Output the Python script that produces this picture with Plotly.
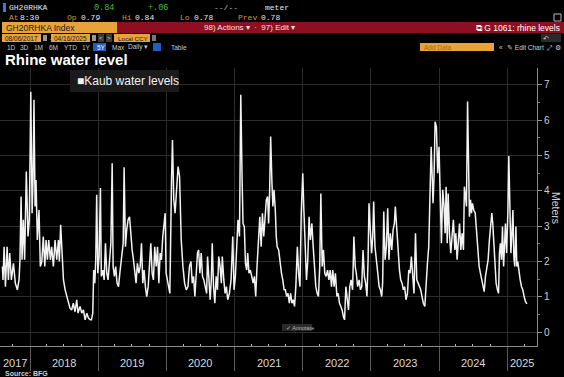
import plotly.graph_objects as go
import datetime as dt

# ---------------- data (Kaub water level, meters) ----------------
dates = [
 "2017-08-06","2017-08-09","2017-08-15","2017-08-22","2017-08-31","2017-09-07","2017-09-14","2017-09-23",
 "2017-10-04","2017-10-14","2017-10-25","2017-11-03","2017-11-08","2017-11-14","2017-11-19","2017-11-26",
 "2017-12-03","2017-12-12","2017-12-21","2017-12-28","2018-01-05","2018-01-12","2018-01-17","2018-01-22",
 "2018-01-28","2018-02-02","2018-02-09","2018-02-18","2018-02-25","2018-03-05","2018-03-13","2018-03-21",
 "2018-03-28","2018-04-04","2018-04-11","2018-04-20","2018-04-27","2018-05-06","2018-05-15","2018-05-24",
 "2018-06-02","2018-06-07","2018-06-14","2018-06-22","2018-06-29","2018-07-08","2018-07-17","2018-07-26",
 "2018-08-03","2018-08-12","2018-08-21","2018-08-30","2018-09-08","2018-09-15","2018-09-26","2018-10-05",
 "2018-10-14","2018-10-23","2018-11-01","2018-11-10","2018-11-19","2018-11-26","2018-12-03","2018-12-08",
 "2018-12-14","2018-12-19","2018-12-24","2018-12-30","2019-01-06","2019-01-13","2019-01-18","2019-01-26",
 "2019-02-02","2019-02-09","2019-02-16","2019-02-23","2019-03-02","2019-03-10","2019-03-17","2019-03-22",
 "2019-03-29","2019-04-05","2019-04-12","2019-04-20","2019-04-27","2019-05-07","2019-05-15","2019-05-20",
 "2019-05-27","2019-06-03","2019-06-10","2019-06-18","2019-06-25","2019-07-02","2019-07-09","2019-07-16",
 "2019-07-23","2019-07-30","2019-08-07","2019-08-14","2019-08-21","2019-08-28","2019-09-04","2019-09-11",
 "2019-09-18","2019-09-26","2019-10-03","2019-10-10","2019-10-17","2019-10-24","2019-10-31","2019-11-08",
 "2019-11-15","2019-11-22","2019-11-29","2019-12-06","2019-12-13","2019-12-20","2019-12-26","2019-12-31",
 "2020-01-11","2020-01-20","2020-01-29","2020-02-03","2020-02-10","2020-02-17","2020-02-25","2020-03-04",
 "2020-03-12","2020-03-21","2020-03-30","2020-04-08","2020-04-17","2020-04-26","2020-05-04","2020-05-12",
 "2020-05-19","2020-05-26","2020-06-02","2020-06-09","2020-06-16","2020-06-22","2020-06-29","2020-07-06",
 "2020-07-13","2020-07-20","2020-07-27","2020-08-04","2020-08-09","2020-08-16","2020-08-23","2020-08-29",
 "2020-09-03","2020-09-10","2020-09-17","2020-09-24","2020-10-01","2020-10-08","2020-10-15","2020-10-22",
 "2020-10-27","2020-11-04","2020-11-11","2020-11-18","2020-11-25","2020-12-04","2020-12-13","2020-12-22",
 "2020-12-29","2021-01-05","2021-01-12","2021-01-19","2021-01-27","2021-02-03","2021-02-10","2021-02-15",
 "2021-02-22","2021-02-28","2021-03-07","2021-03-12","2021-03-19","2021-03-26","2021-04-03","2021-04-10",
 "2021-04-17","2021-04-24","2021-05-01","2021-05-08","2021-05-16","2021-05-23","2021-05-30","2021-06-06",
 "2021-06-13","2021-06-20","2021-06-27","2021-07-02","2021-07-07","2021-07-13","2021-07-20","2021-07-25",
 "2021-07-31","2021-08-07","2021-08-12","2021-08-17","2021-08-25","2021-09-02","2021-09-09","2021-09-16",
 "2021-09-23","2021-09-30","2021-10-07","2021-10-14","2021-10-21","2021-10-28","2021-11-04","2021-11-11",
 "2021-11-18","2021-11-25","2021-12-03","2021-12-10","2021-12-17","2021-12-24","2022-01-01","2022-01-07",
 "2022-01-14","2022-01-21","2022-01-28","2022-02-04","2022-02-11","2022-02-19","2022-02-26","2022-03-05",
 "2022-03-12","2022-03-19","2022-03-26","2022-04-02","2022-04-08","2022-04-15","2022-04-22","2022-04-29",
 "2022-05-06","2022-05-14","2022-05-21","2022-05-28","2022-06-04","2022-06-11","2022-06-18","2022-06-25",
 "2022-07-03","2022-07-10","2022-07-17","2022-07-24","2022-07-31","2022-08-07","2022-08-13","2022-08-20",
 "2022-08-27","2022-09-03","2022-09-10","2022-09-17","2022-09-25","2022-10-02","2022-10-09","2022-10-15",
 "2022-10-22","2022-10-30","2022-11-06","2022-11-13","2022-11-20","2022-11-27","2022-12-04","2022-12-11",
 "2022-12-17","2022-12-22","2022-12-29","2023-01-05","2023-01-11","2023-01-16","2023-01-23","2023-01-30",
 "2023-02-07","2023-02-14","2023-02-21","2023-02-28","2023-03-05","2023-03-11","2023-03-18","2023-03-25",
 "2023-04-01","2023-04-08","2023-04-15","2023-04-23","2023-04-30","2023-05-07","2023-05-12","2023-05-19",
 "2023-05-27","2023-06-03","2023-06-10","2023-06-17","2023-06-24","2023-07-01","2023-07-08","2023-07-16",
 "2023-07-23","2023-07-30","2023-08-06","2023-08-13","2023-08-20","2023-08-28","2023-09-04","2023-09-11",
 "2023-09-18","2023-09-25","2023-10-02","2023-10-09","2023-10-17","2023-10-24","2023-10-31","2023-11-07",
 "2023-11-14","2023-11-20","2023-11-25","2023-11-30","2023-12-06","2023-12-11","2023-12-18","2023-12-25",
 "2024-01-01","2024-01-09","2024-01-14","2024-01-21","2024-01-28","2024-02-03","2024-02-08","2024-02-14",
 "2024-02-19","2024-02-26","2024-03-04","2024-03-11","2024-03-18","2024-03-26","2024-03-31","2024-04-07",
 "2024-04-14","2024-04-20","2024-04-27","2024-05-04","2024-05-11","2024-05-16","2024-05-22","2024-05-27",
 "2024-06-02","2024-06-07","2024-06-12","2024-06-18","2024-06-23","2024-06-28","2024-07-05","2024-07-13",
 "2024-07-20","2024-07-27","2024-08-03","2024-08-10","2024-08-17","2024-08-24","2024-08-30","2024-09-06",
 "2024-09-13","2024-09-20","2024-09-27","2024-10-05","2024-10-10","2024-10-15","2024-10-21","2024-10-26",
 "2024-11-02","2024-11-09","2024-11-15","2024-11-20","2024-11-25","2024-12-01","2024-12-06","2024-12-12",
 "2024-12-17","2024-12-22","2024-12-28","2025-01-04","2025-01-09","2025-01-14","2025-01-20","2025-01-25",
 "2025-01-31","2025-02-05","2025-02-10","2025-02-16","2025-02-21","2025-02-26","2025-03-04","2025-03-11",
 "2025-03-18","2025-03-25","2025-04-01","2025-04-08","2025-04-16",
]
levels = [
 1.86,1.48,2.42,1.29,2.42,1.48,2.24,1.48,
 1.95,1.39,1.20,1.48,2.05,3.84,2.05,3.18,
 2.05,4.55,2.71,3.18,6.81,3.37,4.31,6.58,
 3.56,4.31,2.61,3.46,1.86,2.00,2.71,1.86,
 2.61,2.05,2.61,2.05,2.42,1.86,2.61,2.05,
 2.61,2.00,3.04,2.05,1.48,1.20,1.01,0.87,
 0.68,0.63,0.82,0.58,0.92,0.54,0.73,0.54,
 0.63,0.35,0.54,0.40,0.35,0.35,0.54,1.76,
 1.39,2.05,3.89,1.67,2.14,4.08,1.58,1.76,
 1.48,2.52,1.67,1.48,1.95,2.52,4.78,1.86,
 1.58,1.86,1.39,1.29,1.67,2.24,2.52,4.67,
 2.42,2.90,3.18,3.27,2.71,2.33,2.05,1.67,
 1.39,1.95,1.67,1.86,2.52,1.39,1.76,1.29,
 1.01,1.29,1.86,2.52,1.67,1.48,2.42,1.86,
 2.42,1.39,2.24,2.05,2.71,2.99,3.37,1.67,
 1.29,1.10,4.31,5.44,3.75,3.37,4.03,4.69,
 4.41,2.61,1.86,1.39,1.20,1.29,1.86,2.00,
 1.39,1.58,1.01,1.67,2.24,2.33,1.67,2.24,
 1.58,1.48,1.29,1.10,2.14,1.48,0.92,1.48,
 2.52,1.29,0.82,1.58,1.20,2.14,1.86,1.39,
 2.14,1.48,1.10,1.29,0.92,1.10,1.48,2.71,
 1.20,1.58,2.33,3.18,2.71,6.72,4.31,3.08,
 2.99,1.95,1.76,2.24,1.67,1.76,1.58,1.39,
 1.58,1.01,1.86,2.61,3.27,2.42,3.37,2.71,
 3.27,3.75,3.84,3.08,3.84,5.54,4.22,3.56,
 4.03,3.46,2.71,2.42,2.33,1.86,1.67,1.48,
 1.20,1.20,1.01,1.10,0.82,1.10,0.82,0.92,
 0.73,1.29,2.42,1.67,1.29,3.37,4.50,3.46,
 2.42,1.48,2.05,3.27,2.61,3.08,2.42,1.67,
 1.29,1.10,1.01,1.86,3.93,1.86,2.33,1.67,
 1.58,1.76,1.48,1.76,1.29,1.76,1.29,1.67,
 1.01,1.10,0.82,0.73,0.63,0.44,0.35,1.29,
 0.92,0.63,1.29,1.48,1.20,2.71,1.86,1.67,
 1.29,1.48,1.20,1.29,2.33,1.58,1.39,1.01,
 2.05,3.65,2.90,2.24,2.71,3.70,2.42,2.14,
 1.67,1.29,1.20,1.01,1.39,3.42,2.05,2.42,
 3.51,2.05,2.80,2.33,2.90,3.08,3.56,2.99,
 2.24,1.76,1.48,1.39,1.20,1.29,0.92,1.10,
 1.76,1.67,2.14,1.48,1.10,2.80,1.48,1.39,
 1.29,1.20,1.01,0.82,0.73,1.48,1.95,2.42,
 3.84,5.25,4.50,3.65,4.50,5.96,5.82,4.50,
 5.25,3.65,2.52,4.03,3.56,2.80,4.12,2.52,
 3.93,2.80,2.24,2.71,3.18,2.33,2.80,2.05,
 2.71,3.08,2.33,2.80,2.33,4.12,3.84,3.56,
 6.53,4.22,3.27,3.75,3.37,3.65,3.46,3.37,
 2.80,2.33,1.86,1.67,1.48,1.29,1.15,1.58,
 1.86,2.05,2.61,3.18,3.37,3.08,2.42,1.86,
 1.39,1.20,1.10,2.24,2.52,2.05,2.99,1.86,
 2.80,3.08,2.24,3.37,4.99,3.18,2.24,2.71,
 3.46,2.14,1.86,2.99,1.86,2.00,1.67,1.48,
 1.29,1.20,1.01,0.87,0.80,
]
years = [2017, 2018, 2019, 2020, 2021, 2022, 2023, 2024, 2025]
y_ticks = [0, 1, 2, 3, 4, 5, 6, 7]
x_range = ["2017-07-24", "2025-06-09"]
y_range = [-0.39, 7.48]

# ---------------- geometry helpers (pixel -> paper) ----------------
W, H = 564, 377
L, R, T, B = 0, 27, 68, 31
PW, PH = W - L - R, H - T - B

def px(x):
    return (x - L) / PW

def py(y):
    return (H - B - y) / PH

fig = go.Figure()
fig.add_trace(go.Scatter(x=dates, y=levels, mode="lines",
                         line=dict(color="#f2f2f2", width=1.5),
                         name="Kaub water levels", showlegend=False,
                         hoverinfo="x+y"))

year_starts = [f"{y}-01-01" for y in years[1:]]
quarters = [f"{y}-{m:02d}-01" for y in years for m in (4, 7, 10)
            if x_range[0] <= f"{y}-{m:02d}-01" <= x_range[1]]

def d(s):
    return dt.date.fromisoformat(s)

annotations = []
shapes = []

# year labels centred in visible part of each year
for y in years:
    a = max(d(f"{y}-01-01"), d(x_range[0]))
    b = min(d(f"{y+1}-01-01"), d(x_range[1]))
    mid = a + (b - a) / 2
    annotations.append(dict(x=mid.isoformat(), xref="x", y=py(363), yref="paper",
                            text=str(y), showarrow=False,
                            font=dict(size=11, color="#d8d8d8", family="Liberation Sans"),
                            xanchor="center", yanchor="middle"))

def txt(x, y, s, color="#e0e0e0", size=8, family="Liberation Sans", anchor="left", bold=False, angle=0):
    if bold:
        s = "<b>" + s + "</b>"
    annotations.append(dict(x=px(x), y=py(y), xref="paper", yref="paper", text=s,
                            showarrow=False, xanchor=anchor, yanchor="middle",
                            textangle=angle,
                            font=dict(size=size, color=color, family=family)))

def rect(x0, y0, x1, y1, color, line=None, layer="below"):
    shapes.append(dict(type="rect", xref="paper", yref="paper",
                       x0=px(x0), x1=px(x1), y0=py(y1), y1=py(y0),
                       fillcolor=color, line=dict(width=0 if line is None else 1,
                                                  color=line or color), layer=layer))

MONO = "Liberation Mono"
ORANGE = "#e8a23a"
# ---- header row 1
rect(3, 3, 6, 12, "#2f7fe0")
txt(7, 7.5, "GH20RHKA", "#e8e8e8", 8, MONO)
txt(92, 7.5, "0.84", "#3fbf3f", 8.5, MONO)
txt(146, 7.5, "+.06", "#3fbf3f", 8.5, MONO)
txt(212, 7.5, "--/--", "#bbbbbb", 8, MONO)
txt(263, 7.5, "meter", "#e8e8e8", 8, MONO)
# ---- header row 2
for lab, lx, val, vx in [("At", 7, "8:30", 18), ("Op", 65, "0.79", 79), ("Hi", 120, "0.84", 133),
                         ("Lo", 178, "0.78", 192), ("Prev", 236, "0.78", 259)]:
    txt(lx, 17, lab, "#d9903a", 8, MONO)
    txt(vx, 17, val, "#e8e8e8", 8, MONO)
rect(554, 14, 561, 21, "#000000", "#bbbbbb")
# ---- header row 3
rect(2, 22, 117, 33, ORANGE)
rect(117, 22, 564, 33, "#8e0f22")
txt(4, 27.5, "GH20RHKA Index", "#1a1a1a", 8.5)
txt(202, 27.5, "98) Actions ▾  ·  97) Edit ▾", "#f0e0e0", 8)
txt(474, 27.5, "⧉ G 1061: rhine levels", "#ffffff", 8.5)
# ---- header row 4
rect(2, 34, 41, 42, ORANGE)
txt(3, 38, "08/06/2017", "#1a1a1a", 6.5)
rect(43, 35, 47, 41, "#999999")
txt(48, 38, "-", "#cccccc", 6.5)
rect(51, 34, 90, 42, ORANGE)
txt(52, 38, "04/16/2025", "#1a1a1a", 6.5)
rect(92, 35, 96, 41, "#999999")
rect(98, 34, 104, 42, "#3a3a3a")
rect(106, 34, 112, 42, "#3a3a3a")
txt(101, 38, "<", "#dddddd", 6, anchor="center")
txt(109, 38, ">", "#dddddd", 6, anchor="center")
rect(114, 34, 150, 42, ORANGE)
txt(116, 38, "Local CCY", "#1a1a1a", 6.2)
rect(152, 35, 156, 41, "#777777")
rect(541, 34, 561, 42, "#2a2a2a")
txt(546, 38, "↶", "#cccccc", 7, anchor="center")
# ---- header row 5
for s, x in [("1D", 5), ("3D", 18), ("1M", 32), ("6M", 47), ("YTD", 62), ("1Y", 80)]:
    txt(x, 47, s, "#c8c8c8", 6.5)
rect(93, 43, 106, 51, "#1f5fbf")
txt(95, 47, "5Y", "#ffffff", 6.5)
txt(110, 47, "Max", "#c8c8c8", 6.5)
txt(126, 47, "Daily ▾", "#c8c8c8", 6.5)
rect(153, 43, 161, 51, "#1f5fbf")
txt(169, 47, "Table", "#c8c8c8", 6.5)
rect(420, 43, 494, 51, ORANGE)
txt(422, 47, "Add Data", "#9a6a20", 6.5)
txt(497, 47, "«", "#d0d0d0", 6.5)
txt(505, 47, "✎ Edit Chart", "#d0d0d0", 6.5)
txt(545, 47, "⤢", "#d0d0d0", 6.5)
txt(553, 47, "⚙", "#d0d0d0", 6.5)

# ---- title, legend, misc
txt(3, 59.5, "Rhine water level", "#ffffff", 15, "Liberation Sans", bold=True)
rect(70, 70, 179, 92, "#1b1b1b", layer="above")
txt(75, 81, "■Kaub water levels", "#f2f2f2", 12, "Liberation Sans")
txt(556, 208, "Meters", "#d0d0d0", 10.5, "Liberation Sans", anchor="center", angle=90)
txt(3, 373, "Source: BFG", "#cfcfcf", 7, "Liberation Sans", bold=True)
rect(282, 324, 312, 331, "#2a2a2a", layer="above")
txt(284, 327.5, "✓ Annotate", "#bbbbbb", 5.5)

fig.update_layout(
    width=W, height=H,
    margin=dict(l=L, r=R, t=T, b=B, pad=0),
    paper_bgcolor="#000000", plot_bgcolor="rgba(0,0,0,0)",
    showlegend=False,
    annotations=annotations, shapes=shapes,
    xaxis=dict(type="date", range=x_range, showgrid=False, zeroline=False,
               tickmode="array", tickvals=quarters, showticklabels=False,
               ticks="inside", ticklen=2, tickcolor="#bbbbbb", tickwidth=1,
               showline=True, linecolor="#8a8a8a", linewidth=1,
               minor=dict(tickmode="array", tickvals=year_starts, showgrid=True,
                          gridcolor="#2c2c2c", gridwidth=1, ticks="outside",
                          ticklen=24, tickcolor="#5a5a5a", tickwidth=1)),
    yaxis=dict(side="right", range=y_range, tickmode="array", tickvals=y_ticks,
               showgrid=True, gridcolor="#2c2c2c", gridwidth=1, zeroline=False,
               ticks="outside", ticklen=4, tickcolor="#9a9a9a",
               tickfont=dict(size=10, color="#d0d0d0", family="Liberation Sans"),
               showline=True, linecolor="#8a8a8a", linewidth=1,
               minor=dict(dtick=0.5, ticks="outside", ticklen=2, tickcolor="#7a7a7a")),
)

fig.write_html("out.html", config={"displayModeBar": False},
               post_script="document.body.style.margin='0';document.body.style.background='#000';")
